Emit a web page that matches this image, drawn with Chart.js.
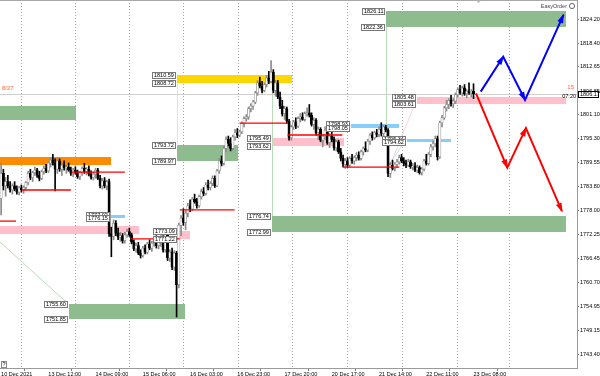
<!DOCTYPE html>
<html>
<head>
<meta charset="utf-8">
<script src="https://cdn.jsdelivr.net/npm/chart.js@4.4.1/dist/chart.umd.min.js"></script>
<style>
    html, body { margin: 0; padding: 0; background: #fff; }
    canvas { display: block; }
</style>
</head>
<body>
<canvas id="priceChart" width="600" height="376"></canvas>
<script>
// H1 candles, bar index 0 = 10 Dec 14:00
var opens = [1781,1787,1784,1785,1784,1783,1784,1783.2,1782.5,1783.5,
    1783,1783.6,1784.8,1787,1786,1787.2,1787.8,1786.5,1785.8,1787.4,
    1788.2,1787.6,1789.5,1790.2,1789.5,1788,1790,1788,1789,1788.3,
    1788.6,1787.8,1787,1787.8,1787.2,1786.2,1787.2,1788.2,1787.5,1788,
    1786.8,1786,1786.8,1787.8,1785.8,1784,1785.2,1784,1785,1772.5,
    1771.8,1775,1772.6,1771.6,1772,1770.8,1772.2,1773,1772.2,1770.4,
    1768.8,1769.6,1767.8,1767.2,1769,1768,1770,1769,1770.2,1771,
    1769.6,1770.6,1771.5,1768.6,1773,1766.6,1768,1764.4,1767.8,1760.2,
    1774.5,1776.2,1775.2,1777.4,1779.2,1778.4,1780.8,1780.2,1779.2,1781.4,
    1782.6,1782.2,1784.2,1783.6,1784.6,1785.8,1784,1787.6,1790,1789.4,
    1793,1795.2,1794.2,1793,1795.8,1796.8,1796.2,1797,1799,1800.2,
    1800.6,1802.6,1803.2,1804.2,1806.4,1808.8,1808,1807,1808.4,1810,
    1809.2,1811.4,1807,1808.8,1805.4,1803.2,1801.4,1802.6,1799.6,1795.6,
    1798.2,1799.4,1798.4,1800.2,1800.6,1800,1801.4,1801.6,1801,1798.8,
    1799.8,1796.8,1797.6,1795,1796,1797.4,1794.4,1796,1795.2,1793.2,
    1794.6,1792.2,1790.6,1789.2,1790,1789,1790.6,1790,1790.8,1791.4,
    1790.6,1792.2,1793,1792.6,1794.8,1796.2,1795.6,1796.8,1796.4,1797.6,
    1796.6,1798.2,1797.4,1787,1789,1788.2,1789.2,1789.8,1790.8,1790,
    1789.4,1789,1789.8,1788.6,1788.8,1787.8,1788.4,1787.2,1788,1790,
    1789.4,1791.6,1793.4,1794.2,1795.4,1791,1799.2,1800.4,1802.8,1803.6,
    1804.6,1803.8,1804.4,1806,1807.2,1806.4,1807.6,1806.2,1806.8,1806.4,
    1806.8];
var highs = [1789.5,1788,1786,1786.5,1785,1784.5,1785,1784,1783.8,1784.2,
    1784,1785,1787.5,1788,1787.5,1788.5,1788.2,1787.5,1787.8,1788.8,
    1789.2,1789.8,1790.8,1791.6,1790.5,1790.8,1790.5,1789.5,1790,1789,
    1789.5,1788.5,1788.2,1788.6,1787.8,1787.5,1788.6,1789.4,1788.4,1788.8,
    1787.6,1787.2,1788.2,1788.2,1786.5,1785.8,1786,1785.4,1785.6,1774,
    1775.8,1775.6,1773.8,1772.8,1772.5,1772.8,1773.5,1773.8,1772.6,1771,
    1770.2,1770.4,1768.6,1769.4,1769.8,1770.4,1771,1770.6,1771.6,1772,
    1771.2,1772,1772,1773.6,1773.4,1768.6,1769,1768.4,1768.2,1775,
    1776.8,1778.5,1778,1779.8,1780.6,1781.2,1782,1781,1781.8,1783.2,
    1783.6,1784.8,1785.4,1785,1786.4,1786.4,1788,1790.6,1791.2,1793.6,
    1795.8,1796,1795.6,1796.2,1797.6,1797.8,1797.4,1799.4,1800.6,1801.2,
    1803,1803.8,1804.6,1806.8,1809.4,1810.2,1809.2,1808.8,1810.6,1811.6,
    1814.2,1812,1809.4,1809.4,1806.6,1804.6,1803.2,1803,1800,1798.6,
    1799.8,1800.4,1800.6,1801.4,1801.6,1801.8,1802.8,1803.6,1801.6,1800.4,
    1800.2,1798.2,1798,1796.4,1798.2,1797.8,1796.6,1797.4,1795.8,1795,
    1795,1793,1791.4,1790.6,1790.8,1791,1791.6,1791.2,1792,1792.2,
    1792.6,1793.4,1794.6,1795.2,1796.6,1797,1797.2,1797.6,1798.2,1799.2,
    1798.6,1798.6,1797.8,1789.6,1790.2,1789.6,1790.4,1791.4,1791.6,1790.8,
    1790.2,1790.4,1790.2,1789.4,1789.6,1789,1788.8,1788.4,1790.4,1791.6,
    1792,1794,1794.8,1796,1796,1799.6,1801,1803.2,1804.6,1805,
    1805.8,1805,1806.4,1807.6,1808.2,1808,1808.4,1807.2,1808.8,1807.2,
    1808.6];
var lows = [1777,1783,1781.5,1783.5,1782.5,1782,1782.8,1782,1781.8,1782.5,
    1782.2,1783,1784.2,1785.5,1785,1786.5,1786,1785.2,1785.5,1786.8,
    1787.2,1787.2,1788.5,1789,1782.8,1787,1787.5,1786.5,1787.8,1787,
    1787.5,1786.5,1786.2,1786.8,1785.8,1785.5,1786.5,1787,1786.6,1786.4,
    1785.6,1785.4,1785.8,1785.5,1783.5,1783.2,1783.5,1783,1771.8,1766.9,
    1771,1772,1771,1770.6,1770.2,1770.2,1771.6,1771.8,1770,1768.4,
    1768,1767.4,1766.6,1766.8,1767.6,1767.6,1768.6,1768.2,1769.4,1769,
    1768.8,1769.4,1768,1768,1766,1765.8,1763.8,1763.6,1752.4,1759.4,
    1772,1774.5,1773.4,1776.5,1777.8,1778,1779.8,1778.6,1778.8,1780.8,
    1781.6,1781.8,1783,1783,1784,1783.6,1783.8,1787,1788.8,1789,
    1792.2,1793.6,1792.4,1792.6,1795,1795.6,1795.8,1796.6,1798.2,1799.6,
    1800,1801.8,1802.4,1803.8,1805.8,1807.6,1806.4,1806.6,1807.8,1808.6,
    1808.8,1806.4,1805.6,1805,1802.6,1800.8,1800,1799,1795,1795,
    1797.6,1797.8,1798,1799.4,1799.8,1799.6,1800.8,1800.6,1798.4,1797.6,
    1796.2,1795.2,1794.6,1793.4,1795.2,1794,1793.2,1794.6,1792.6,1792.4,
    1791.8,1790,1788.6,1788.2,1788.4,1788.6,1789.4,1789.2,1790,1790.2,
    1790.2,1791.4,1792.2,1792.2,1794,1795,1795.2,1795.8,1795.8,1796,
    1796,1797,1786.2,1786,1787.8,1787.6,1788.4,1789.2,1789.6,1788.8,
    1788.4,1788.6,1788.2,1787.8,1787.4,1787.2,1786.8,1786.6,1787.6,1789,
    1789,1791,1792.6,1793.4,1790.2,1790.6,1798.2,1800,1802,1802.6,
    1803.2,1802.8,1803.8,1805.4,1806,1805.6,1805.8,1805.2,1806,1805.4,
    1805];
var closes = [1787,1784,1785,1784,1783,1784,1783.2,1782.5,1783.5,1783,
    1783.6,1784.8,1787,1786,1787.2,1787.8,1786.5,1785.8,1787.4,1788.2,
    1787.6,1789.5,1790.2,1789.5,1788,1790,1788,1789,1788.3,1788.6,
    1787.8,1787,1787.8,1787.2,1786.2,1787.2,1788.2,1787.5,1788,1786.8,
    1786,1786.8,1787.8,1785.8,1784,1785.2,1784,1785,1772.5,1771.8,
    1775,1772.6,1771.6,1772,1770.8,1772.2,1773,1772.2,1770.4,1768.8,
    1769.6,1767.8,1767.2,1769,1768,1770,1769,1770.2,1771,1769.6,
    1770.6,1771.5,1768.6,1773,1766.6,1768,1764.4,1767.8,1760.2,1774.5,
    1776.2,1775.2,1777.4,1779.2,1778.4,1780.8,1780.2,1779.2,1781.4,1782.6,
    1782.2,1784.2,1783.6,1784.6,1785.8,1784,1787.6,1790,1789.4,1793,
    1795.2,1794.2,1793,1795.8,1796.8,1796.2,1797,1799,1800.2,1800.6,
    1802.6,1803.2,1804.2,1806.4,1808.8,1808,1807,1808.4,1810,1809.2,
    1811.4,1807,1808.8,1805.4,1803.2,1801.4,1802.6,1799.6,1795.6,1798.2,
    1799.4,1798.4,1800.2,1800.6,1800,1801.4,1801.6,1801,1798.8,1799.8,
    1796.8,1797.6,1795,1796,1797.4,1794.4,1796,1795.2,1793.2,1794.6,
    1792.2,1790.6,1789.2,1790,1789,1790.6,1790,1790.8,1791.4,1790.6,
    1792.2,1793,1792.6,1794.8,1796.2,1795.6,1796.8,1796.4,1797.6,1796.6,
    1798.2,1797.4,1787,1789,1788.2,1789.2,1789.8,1790.8,1790,1789.4,
    1789,1789.8,1788.6,1788.8,1787.8,1788.4,1787.2,1788,1790,1789.4,
    1791.6,1793.4,1794.2,1795.4,1791,1799.2,1800.4,1802.8,1803.6,1804.6,
    1803.8,1804.4,1806,1807.2,1806.4,1807.6,1806.2,1806.8,1806.4,1806.8,
    1806.17];
var lastPrice = 1806.17;

var xTickBars = [0, 21, 42, 63, 84, 105, 126, 147, 168, 189, 210];
var xTickLabels = ['10 Dec 2021', '13 Dec 12:00', '14 Dec 09:00', '15 Dec 06:00', '16 Dec 03:00',
    '16 Dec 23:00', '17 Dec 20:00', '20 Dec 17:00', '21 Dec 14:00', '22 Dec 11:00', '23 Dec 08:00'];
var daySeparators = [9.1, 33.2, 57.2, 81.1, 105.5, 129.5, 153.9, 178.3, 202.7, 226.2];
var yTickValues = [1824.20, 1818.40, 1812.65, 1806.85, 1801.10, 1795.30, 1789.55, 1783.80,
    1778.00, 1772.25, 1766.45, 1760.70, 1754.95, 1749.15, 1743.40];

// supply / demand rectangles
var zoneKind  = ['green', 'orange', 'pink', 'blue', 'pink', 'yellow', 'green', 'pink', 'green', 'green', 'green', 'pink', 'blue', 'blue'];
var zoneFrom  = [-2, -2, -2, 48.7, 78.5, 78, 78, 120.6, 120.6, 30.1, 171.2, 185, 155.7, 180.5];
var zoneTo    = [33.2, 48.7, 61.2, 55, 83.8, 129.5, 105.1, 152.6, 251, 81.6, 251, 251, 177, 200];
var zoneHigh  = [1803.24, 1790.95, 1774.3, 1777.02, 1773.09, 1810.59, 1793.72, 1795.49, 1776.74, 1755.60, 1826.11, 1805.48, 1798.93, 1795.34];
var zoneLow   = [1799.86, 1789.0, 1772.4, 1776.15, 1771.22, 1808.72, 1789.97, 1793.62, 1772.99, 1751.85, 1822.36, 1803.61, 1798.05, 1794.62];
var zoneLabel = [false, false, false, true, true, true, true, true, true, true, true, true, true, true];

// red level segments
var levelFrom  = [-2, 9.3, 31.4, 57.6, 79.4, 106, 127.3, 151.7];
var levelTo    = [6.6, 31, 55, 79.4, 103.8, 127.3, 151.7, 177];
var levelPrice = [1775.5, 1783.0, 1787.3, 1771.2, 1778.2, 1799.1, 1796.25, 1788.5];

// projected paths
var bullPathBars   = [213.2, 223.2, 232.9, 250];
var bullPathPrices = [1806.7, 1815.1, 1804.7, 1825.2];
var bearPathBars   = [211.1, 225, 233.3, 249.3];
var bearPathPrices = [1806.3, 1788.4, 1797.9, 1777.9];

// faint connectors
var guideFromBar   = [-2, 184.4, 179.2];
var guideFromPrice = [1771.2, 1804.3, 1794.6];
var guideToBar     = [29.7, 173.3, 171.6];
var guideToPrice   = [1755.6, 1789.5, 1788.3];
var guideKind      = ['green', 'pink', 'blue'];
var stemBar  = [78, 120.6, 171.2];
var stemTop  = [1808.72, 1808.72, 1822.36];
var stemBot  = [1793.72, 1776.74, 1795.34];
var stemKind = ['yellow', 'green', 'green'];

var FONT = '"Liberation Sans", Arial, sans-serif';
var zoneColors = { green: '#8fbc8f', orange: '#ff8c00', pink: '#ffc0cb', yellow: '#ffd700', blue: '#87cefa' };
var faintColors = { green: '#b9dcb9', pink: '#ffd0d8', blue: '#bfe3fb', yellow: '#ffe680' };

var wickData = [], bodyData = [], wickColors = [], bodyColors = [], bodyBorders = [];
opens.forEach(function (o, i) {
    var up = closes[i] >= o;
    wickData.push({ x: i, y: [lows[i], highs[i]] });
    bodyData.push({ x: i, y: [o, closes[i]] });
    wickColors.push(up ? '#8c8c8c' : '#000');
    bodyColors.push(up ? '#fff' : '#000');
    bodyBorders.push(up ? '#8c8c8c' : '#000');
});

function pathPoints(bars, prices) {
    return bars.map(function (b, i) { return { x: b, y: prices[i] }; });
}

function priceTag(ctx, xRight, yMid, text) {
    ctx.font = '5.5px ' + FONT;
    var w = Math.round(ctx.measureText(text).width + 4);
    var left = Math.round(xRight) - w, top = Math.round(yMid) - 3;
    ctx.fillStyle = '#fff';
    ctx.fillRect(left, top, w, 7);
    ctx.strokeStyle = '#7a7a7a';
    ctx.lineWidth = 1;
    ctx.strokeRect(left + 0.5, top + 0.5, w - 1, 6);
    ctx.fillStyle = '#000';
    ctx.textAlign = 'left';
    ctx.textBaseline = 'middle';
    ctx.fillText(text, left + 2, top + 3.7);
}

var overlay = {
    id: 'overlay',
    beforeDatasetsDraw: function (chart) {
        var ctx = chart.ctx, xs = chart.scales.x, ys = chart.scales.y, a = chart.chartArea;
        ctx.save();
        ctx.beginPath();
        ctx.rect(a.left, a.top, a.right - a.left, a.bottom - a.top);
        ctx.clip();
        zoneKind.forEach(function (kind, i) {
            var x0 = Math.round(xs.getPixelForValue(zoneFrom[i])), x1 = Math.round(xs.getPixelForValue(zoneTo[i]));
            var y0 = Math.round(ys.getPixelForValue(zoneHigh[i])), y1 = Math.round(ys.getPixelForValue(zoneLow[i]));
            ctx.fillStyle = zoneColors[kind];
            ctx.fillRect(x0, y0, x1 - x0, y1 - y0);
        });
        ctx.lineWidth = 1;
        stemKind.forEach(function (kind, i) {
            var x = Math.round(xs.getPixelForValue(stemBar[i])) + 0.5;
            ctx.strokeStyle = faintColors[kind];
            ctx.beginPath();
            ctx.moveTo(x, ys.getPixelForValue(stemTop[i]));
            ctx.lineTo(x, ys.getPixelForValue(stemBot[i]));
            ctx.stroke();
        });
        guideKind.forEach(function (kind, i) {
            ctx.strokeStyle = faintColors[kind];
            ctx.beginPath();
            ctx.moveTo(xs.getPixelForValue(guideFromBar[i]), ys.getPixelForValue(guideFromPrice[i]));
            ctx.lineTo(xs.getPixelForValue(guideToBar[i]), ys.getPixelForValue(guideToPrice[i]));
            ctx.stroke();
        });
        var py = Math.round(ys.getPixelForValue(lastPrice)) + 0.5;
        ctx.strokeStyle = '#d0d0d0';
        ctx.beginPath();
        ctx.moveTo(a.left, py);
        ctx.lineTo(a.right, py);
        ctx.stroke();
        ctx.restore();
    },
    afterDatasetsDraw: function (chart) {
        var ctx = chart.ctx, xs = chart.scales.x, ys = chart.scales.y, a = chart.chartArea;
        ctx.save();
        ctx.beginPath();
        ctx.rect(a.left, a.top, a.right - a.left, a.bottom - a.top);
        ctx.clip();
        ctx.strokeStyle = '#ff0000';
        ctx.lineWidth = 1.3;
        levelPrice.forEach(function (p, i) {
            var y = ys.getPixelForValue(p);
            ctx.beginPath();
            ctx.moveTo(xs.getPixelForValue(levelFrom[i]), y);
            ctx.lineTo(xs.getPixelForValue(levelTo[i]), y);
            ctx.stroke();
        });
        // arrow heads at the end of every leg
        [2, 3].forEach(function (idx) {
            var meta = chart.getDatasetMeta(idx);
            var color = chart.data.datasets[idx].borderColor;
            ctx.fillStyle = color;
            for (var i = 1; i < meta.data.length; i++) {
                var p0 = meta.data[i - 1], p1 = meta.data[i];
                var ang = Math.atan2(p1.y - p0.y, p1.x - p0.x);
                var len = 8, half = 3;
                var bx = p1.x - Math.cos(ang) * len, by = p1.y - Math.sin(ang) * len;
                ctx.beginPath();
                ctx.moveTo(p1.x + Math.cos(ang) * 1.5, p1.y + Math.sin(ang) * 1.5);
                ctx.lineTo(bx - Math.sin(ang) * half, by + Math.cos(ang) * half);
                ctx.lineTo(bx + Math.sin(ang) * half, by - Math.cos(ang) * half);
                ctx.closePath();
                ctx.fill();
            }
        });
        ctx.restore();

        ctx.save();
        zoneKind.forEach(function (kind, i) {
            if (!zoneLabel[i]) return;
            var x0 = Math.round(xs.getPixelForValue(zoneFrom[i])) - 1;
            priceTag(ctx, x0, ys.getPixelForValue(zoneHigh[i]), zoneHigh[i].toFixed(2));
            priceTag(ctx, x0, ys.getPixelForValue(zoneLow[i]), zoneLow[i].toFixed(2));
        });
        ctx.restore();
    },
    afterDraw: function (chart) {
        var ctx = chart.ctx, ys = chart.scales.y, a = chart.chartArea;
        var py = ys.getPixelForValue(lastPrice);
        ctx.save();
        // bid price tag on the axis
        ctx.fillStyle = '#fff';
        ctx.fillRect(a.right + 1, Math.round(py) - 3, 21, 7);
        ctx.strokeStyle = '#000';
        ctx.lineWidth = 1;
        ctx.strokeRect(a.right + 1.5, Math.round(py) - 2.5, 20, 6);
        ctx.fillStyle = '#000';
        ctx.font = '5.5px ' + FONT;
        ctx.textBaseline = 'middle';
        ctx.textAlign = 'left';
        ctx.fillText(lastPrice.toFixed(2), a.right + 3, Math.round(py) + 0.7);

        ctx.font = '6px ' + FONT;
        ctx.fillStyle = '#ff6a3d';
        ctx.fillText('8/27', a.left + 2, py - 5);
        ctx.textAlign = 'right';
        ctx.fillText('15', a.right - 3, py - 6);
        ctx.fillStyle = '#000';
        ctx.font = '5.5px ' + FONT;
        ctx.fillText('07:20', a.right - 1, py + 3);

        ctx.fillStyle = '#444';
        ctx.fillText('EasyOrder', a.right - 10, a.top + 6);
        ctx.strokeStyle = '#666';
        ctx.beginPath();
        ctx.arc(a.right - 5, a.top + 6, 2.6, 0, Math.PI * 2);
        ctx.stroke();

        // top border and small marker
        ctx.strokeStyle = '#a8a8a8';
        ctx.beginPath();
        ctx.moveTo(0, 0.5);
        ctx.lineTo(a.right, 0.5);
        ctx.stroke();
        ctx.fillStyle = '#b0b0b0';
        ctx.beginPath();
        ctx.moveTo(476, 0);
        ctx.lineTo(481, 0);
        ctx.lineTo(478.5, 3);
        ctx.closePath();
        ctx.fill();

        ctx.fillStyle = '#fff';
        ctx.fillRect(1, a.bottom - 7, 6, 7);
        ctx.strokeStyle = '#888';
        ctx.strokeRect(1.5, a.bottom - 6.5, 5, 6);
        ctx.fillStyle = '#000';
        ctx.textAlign = 'center';
        ctx.fillText('?', 4, a.bottom - 3.2);
        ctx.restore();
    }
};

new Chart(document.getElementById('priceChart'), {
    type: 'bar',
    data: {
        datasets: [
            { label: 'wick', data: wickData, xAxisID: 'x', yAxisID: 'y', grouped: false, order: 4,
              barThickness: 1, backgroundColor: wickColors, borderWidth: 0 },
            { label: 'body', data: bodyData, xAxisID: 'x', yAxisID: 'y', grouped: false, order: 3,
              barThickness: 2.4, backgroundColor: bodyColors, borderColor: bodyBorders, borderWidth: 0.7, borderSkipped: false },
            { type: 'line', label: 'bull', data: pathPoints(bullPathBars, bullPathPrices), xAxisID: 'x', yAxisID: 'y', order: 1,
              borderColor: '#0000ff', borderWidth: 2, pointRadius: 0, tension: 0, fill: false },
            { type: 'line', label: 'bear', data: pathPoints(bearPathBars, bearPathPrices), xAxisID: 'x', yAxisID: 'y', order: 2,
              borderColor: '#ff0000', borderWidth: 2, pointRadius: 0, tension: 0, fill: false }
        ]
    },
    options: {
        responsive: false,
        animation: false,
        devicePixelRatio: 1,
        layout: { padding: 0 },
        plugins: { legend: { display: false }, tooltip: { enabled: false } },
        scales: {
            x: {
                type: 'linear', position: 'bottom', min: -0.5, max: 256, offset: false,
                grid: { color: '#a6a6a6', lineWidth: 1, drawTicks: false, offset: false },
                border: { display: false, dash: [1, 2] },
                ticks: { display: false },
                afterBuildTicks: function (scale) { scale.ticks = daySeparators.map(function (v) { return { value: v }; }); },
                afterFit: function (scale) { scale.height = 0; scale.paddingLeft = 0; scale.paddingRight = 0; }
            },
            xl: {
                type: 'linear', position: 'bottom', min: -0.5, max: 256, offset: false,
                grid: { drawOnChartArea: false, tickLength: 3, color: '#777' },
                border: { color: '#9a9a9a' },
                ticks: {
                    autoSkip: false, maxRotation: 0, align: 'start', padding: 0, color: '#000',
                    font: { family: FONT, size: 5.5 },
                    callback: function (v, i) { return xTickLabels[i]; }
                },
                afterBuildTicks: function (scale) { scale.ticks = xTickBars.map(function (v) { return { value: v }; }); },
                afterFit: function (scale) { scale.height = 8; scale.paddingLeft = 0; scale.paddingRight = 0; }
            },
            y: {
                type: 'linear', position: 'right', min: 1740.1, max: 1828.78,
                grid: { drawOnChartArea: false, tickLength: 2, color: '#777' },
                border: { color: '#9a9a9a' },
                ticks: {
                    autoSkip: false, padding: 1, color: '#000',
                    font: { family: FONT, size: 5.5 },
                    callback: function (v) { return Number(v).toFixed(2); }
                },
                afterBuildTicks: function (scale) { scale.ticks = yTickValues.map(function (v) { return { value: v }; }); },
                afterFit: function (scale) { scale.width = 23; scale.paddingTop = 0; scale.paddingBottom = 0; }
            }
        }
    },
    plugins: [overlay]
});
</script>
</body>
</html>
